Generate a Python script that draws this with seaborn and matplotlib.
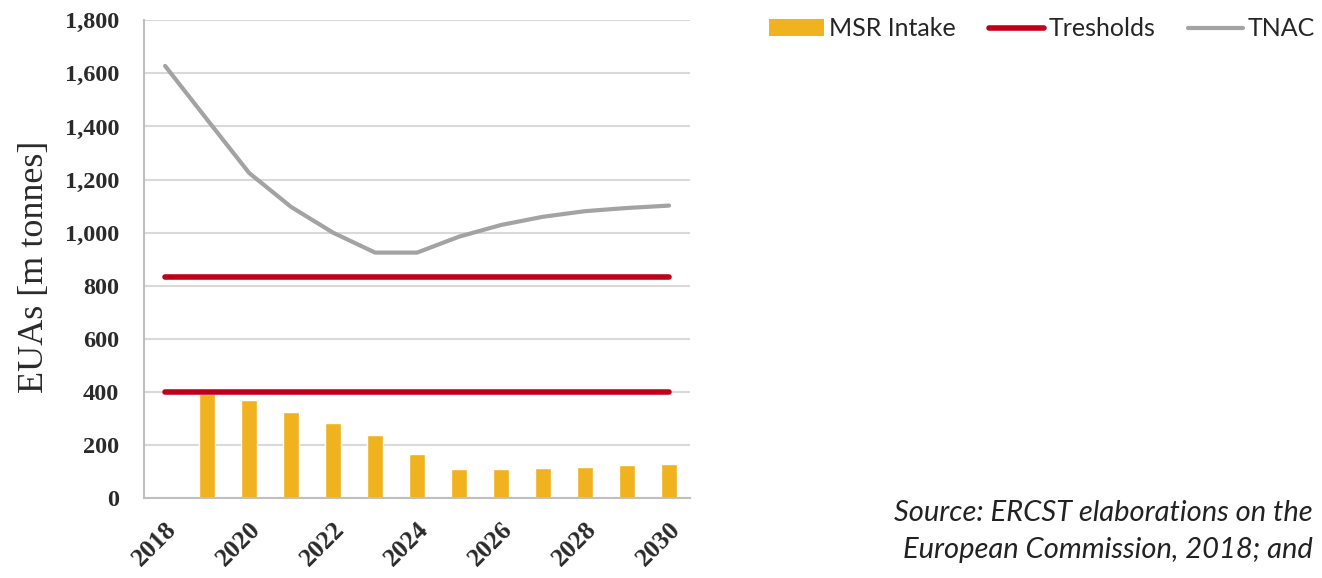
import numpy as np
import pandas as pd
import matplotlib
matplotlib.use("Agg")
import matplotlib.pyplot as plt
import seaborn as sns
from matplotlib.patches import Patch
from matplotlib.lines import Line2D
from matplotlib.ticker import FuncFormatter, MultipleLocator

# ---- data ----
years = list(range(2018, 2031))
msr_intake = [np.nan, 392, 369, 325, 284, 238, 166, 110, 110, 115, 119, 125, 129]
tnac = [1628, 1426, 1225, 1097, 1000, 925, 925, 985, 1029, 1060, 1081, 1093, 1102]
threshold_upper = [833] * len(years)
threshold_lower = [400] * len(years)
tick_years = [2018, 2020, 2022, 2024, 2026, 2028, 2030]
legend_labels = ["MSR Intake", "Tresholds", "TNAC"]
y_label = "EUAs [m tonnes]"
source_lines = ["Source: ERCST elaborations on the", "European Commission, 2018; and"]

BAR_C = "#F0B21E"
RED_C = "#C0001A"
GREY_C = "#A3A3A3"

sns.set_theme(style="white")
plt.rcParams["font.family"] = ["Liberation Serif", "DejaVu Serif"]

fig = plt.figure(figsize=(13.22, 5.78), dpi=100)
ax = fig.add_axes([0.109, 0.138, 0.413, 0.827])

df_bar = pd.DataFrame({"year": years, "msr": msr_intake}).dropna()
sns.barplot(data=df_bar, x="year", y="msr", native_scale=True, width=0.4,
            color=BAR_C, saturation=1, errorbar=None, ax=ax, zorder=2)
sns.lineplot(x=years, y=threshold_upper, color=RED_C, linewidth=4, ax=ax, zorder=3)
sns.lineplot(x=years, y=threshold_lower, color=RED_C, linewidth=4, ax=ax, zorder=3)
sns.lineplot(x=years, y=tnac, color=GREY_C, linewidth=3, ax=ax, zorder=4)

ax.set_xlim(2017.5, 2030.5)
ax.set_ylim(0, 1800)
ax.yaxis.set_major_locator(MultipleLocator(200))
ax.yaxis.set_major_formatter(FuncFormatter(lambda v, p: f"{v:,.0f}"))
ax.set_xticks(tick_years)
ax.set_xticklabels([str(y) for y in tick_years], rotation=45, ha="right",
                   rotation_mode="anchor", fontsize=18.5, fontweight="bold", color="#2a2a2a")
for t in ax.get_yticklabels():
    t.set_fontsize(17.5)
    t.set_fontweight("bold")
    t.set_color("#2a2a2a")
ax.tick_params(axis="x", length=0, pad=14)
ax.tick_params(axis="y", length=0, pad=18)
ax.grid(axis="y", color="#D9D9D9", linewidth=1.5, zorder=0)
ax.set_axisbelow(True)
for s in ["top", "right"]:
    ax.spines[s].set_visible(False)
for s in ["left", "bottom"]:
    ax.spines[s].set_color("#BFBFBF")
    ax.spines[s].set_linewidth(1.5)
ax.set_xlabel("")
ax.set_ylabel(y_label, fontsize=26, color="#2a2a2a")
ax.yaxis.set_label_coords(-0.17, 0.483)

handles = [Patch(facecolor=BAR_C, edgecolor="none"),
           Line2D([0], [0], color=RED_C, linewidth=4),
           Line2D([0], [0], color=GREY_C, linewidth=3)]
fig.legend(handles, legend_labels, loc="upper right", bbox_to_anchor=(1.012, 1.009),
           ncol=3, frameon=False, handlelength=2.2, handletextpad=0.2,
           columnspacing=1.3, prop={"family": ["Lato", "DejaVu Sans"], "size": 18})

fig.text(0.993, 0.113, source_lines[0], ha="right", va="center", fontsize=21,
         style="italic", family=["Lato", "DejaVu Sans"], color="#222222")
fig.text(0.993, 0.048, source_lines[1], ha="right", va="center", fontsize=21,
         style="italic", family=["Lato", "DejaVu Sans"], color="#222222")

fig.savefig("out.png", dpi=100)
